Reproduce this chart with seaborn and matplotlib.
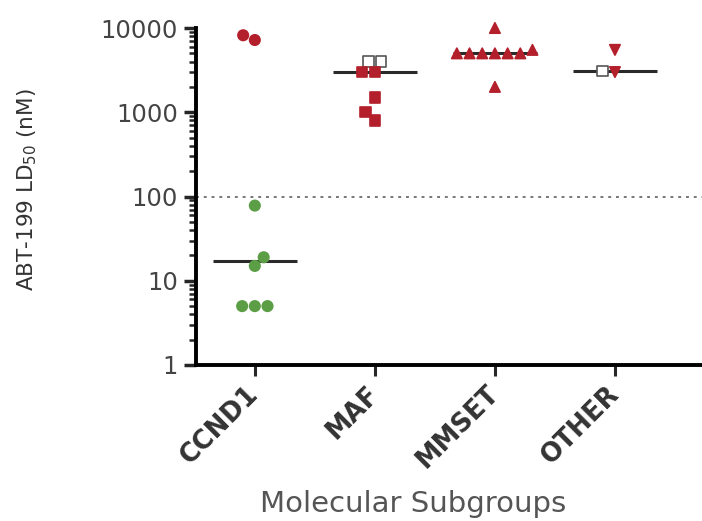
import matplotlib
matplotlib.use("Agg")
import matplotlib.pyplot as plt
import pandas as pd
import seaborn as sns
from matplotlib.markers import MarkerStyle
from matplotlib.ticker import LogLocator, NullFormatter

# ---- data (ABT-199 LD50, nM) ----
groups = ["CCND1", "MAF", "MMSET", "OTHER"]

ccnd1_resistant = [8200, 7200]
ccnd1_sensitive = [78, 19, 15, 5, 5, 5]
maf_filled = [3000, 3000, 1500, 1000, 800]
maf_open = [4000, 4000]
mmset_filled = [10000, 5500, 5000, 5000, 5000, 5000, 5000, 5000, 2000]
other_filled = [5500, 3000]
other_open = [3100]

threshold = 100
y_ticks = [1, 10, 100, 1000, 10000]

rows = []
for g, vals, kind in [
    ("CCND1", ccnd1_resistant, "resistant"),
    ("CCND1", ccnd1_sensitive, "sensitive"),
    ("MAF", maf_open, "open"),
    ("MAF", maf_filled, "resistant"),
    ("MMSET", mmset_filled, "resistant"),
    ("OTHER", other_filled, "resistant"),
    ("OTHER", other_open, "open"),
]:
    for v in vals:
        rows.append({"group": g, "value": v, "kind": kind})
df = pd.DataFrame(rows)

kinds = ["resistant", "sensitive", "open"]
palette = {"resistant": "#b3202c", "sensitive": "#5c9e45", "open": "#ffffff"}
group_markers = {"CCND1": "o", "MAF": "s", "MMSET": "^", "OTHER": "v"}

sns.set_style("ticks")
plt.rcParams["font.family"] = ["DejaVu Sans"]

fig = plt.figure(figsize=(7.02, 5.21), dpi=100)
ax = fig.add_axes([196 / 702, 1 - 365 / 521, 1 - 196 / 702, (365 - 28) / 521])

sns.swarmplot(
    data=df, x="group", y="value", order=groups,
    hue="kind", hue_order=kinds, palette=palette,
    size=7.5, log_scale=True, legend=False, linewidth=0,
    ax=ax, zorder=3,
)


def unit_path(marker):
    m = MarkerStyle(marker)
    return m.get_path().transformed(m.get_transform())


# per-group marker shapes, open squares for the hollow points
for coll in ax.collections:
    offs = coll.get_offsets()
    if len(offs) == 0:
        continue
    gi = int(round(offs[0, 0]))
    shape = group_markers[groups[gi]]
    faces = coll.get_facecolors()
    paths, edges = [], []
    for fc in faces:
        if fc[0] > 0.95 and fc[1] > 0.95 and fc[2] > 0.95:
            paths.append(unit_path("s"))
            edges.append("#555555")
        else:
            paths.append(unit_path(shape))
            edges.append(fc)
    coll.set_paths(paths)
    coll.set_edgecolors(edges)
    coll.set_linewidth(1.2)
    coll.set_clip_on(False)

# group medians
medians = df.groupby("group")["value"].median()
for i, g in enumerate(groups):
    ax.hlines(medians[g], i - 0.35, i + 0.35, color="#2a2a2a", lw=2.2, zorder=2)

# sensitivity threshold
ax.axhline(threshold, color="#777777", ls=(0, (1.5, 2.5)), lw=1.4, zorder=1)

ax.set_yscale("log")
ax.set_ylim(1, 10000)
ax.set_xlim(-0.49, 3.725)
ax.set_yticks(y_ticks)
ax.set_yticklabels([str(v) for v in y_ticks], fontsize=17.5, color="#444444")
ax.yaxis.set_minor_locator(LogLocator(base=10, subs=range(2, 10)))
ax.yaxis.set_minor_formatter(NullFormatter())

ax.set_xticks(range(len(groups)))
ax.set_xticklabels(groups, rotation=45, ha="right", va="center",
                   rotation_mode="anchor",
                   fontsize=18.5, fontweight="bold", color="#333333")

for side in ["top", "right"]:
    ax.spines[side].set_visible(False)
for side in ["left", "bottom"]:
    ax.spines[side].set_linewidth(2.8)
    ax.spines[side].set_color("black")

ax.tick_params(axis="y", which="major", length=9, width=2.5, direction="out", pad=4)
ax.tick_params(axis="y", which="minor", length=5, width=1.8, direction="out")
ax.tick_params(axis="x", which="major", length=8, width=2.2, direction="out", pad=10)

ax.set_ylabel("ABT-199 LD$_{50}$ (nM)", fontsize=15.5, color="#333333")
ax.yaxis.set_label_coords(-0.31, 0.52)
ax.set_xlabel("Molecular Subgroups", fontsize=21, color="#555555")
ax.xaxis.set_label_coords(0.429, -0.37)

fig.savefig("out.png", dpi=100)
